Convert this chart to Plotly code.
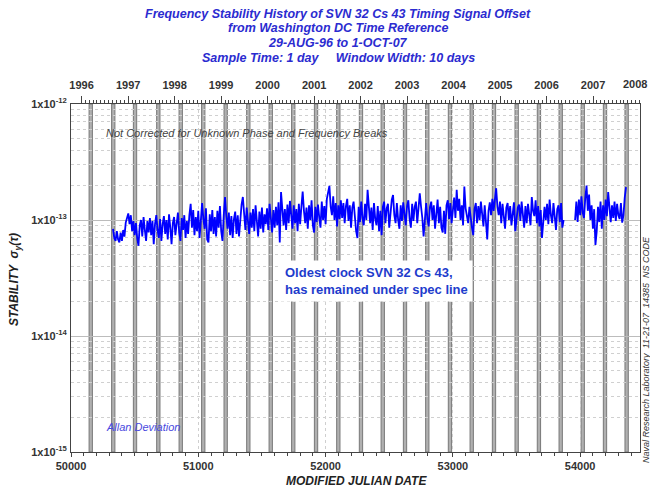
import math
import pandas as pd
import plotly.graph_objects as go

# ---------------- data ----------------
mjd_start = 50330          # first plotted sample (MJD)
sample_step_days = 10      # spacing of the listed samples
# Allan deviation, in units of 1e-13 (None = no data)
sigma_e13 = [
    0.84, 0.70, 0.66, 0.80, 0.68, 0.64, 0.78, 0.66, 0.82, 0.72,
    0.95, 1.08, 1.14, 0.92, 1.10, 0.80, 0.98, 0.74, 0.94, 0.70,
    0.60, 0.90, 1.00, 0.72, 1.06, 0.82, 0.66, 0.98, 0.78, 1.04,
    0.74, 0.98, 0.62, 0.92, 1.10, 0.82, 0.70, 1.02, 0.66, 0.92,
    1.08, 0.76, 1.00, 0.68, 1.12, 0.86, 0.62, 0.94, 1.06, 0.74,
    1.00, 1.16, 0.78, 0.66, 1.04, 0.82, 1.10, 0.70, 0.98, 0.76,
    1.10, 1.38, 0.86, 1.22, 0.74, 1.06, 0.80, 1.20, 0.70, 1.00,
    1.40, 1.02, 0.84, 1.26, 0.68, 0.64, 1.12, 0.80, 1.22, 0.76,
    1.06, 0.72, 1.20, 0.86, 1.32, 0.80, 0.66, 1.10, 1.58, 1.08,
    0.84, 1.16, 0.74, 1.08, 0.70, 1.02, 1.18, 0.76, 1.10, 0.72,
    1.12, 1.36, 1.58, 1.02, 0.82, 1.28, 0.92, 0.76, 1.16, 0.86,
    1.24, 0.80, 1.34, 0.90, 0.72, 1.18, 0.84, 1.28, 0.78, 1.12,
    0.92, 1.26, 0.82, 1.38, 0.96, 0.78, 1.22, 0.86, 1.30, 0.90,
    1.42, 0.64, 1.74, 1.10, 0.90, 1.24, 0.82, 1.36, 0.94, 1.46,
    1.00, 0.84, 1.34, 0.94, 1.24, 0.80, 1.38, 0.92, 1.30, 1.76,
    1.20, 0.94, 1.28, 0.84, 1.34, 1.00, 1.48, 0.90, 0.78, 1.30,
    0.96, 1.36, 1.06, 0.86, 1.44, 1.00, 1.32, 0.92, 1.52, 1.72,
    1.97, 1.30, 1.10, 1.60, 1.00, 1.40, 0.88, 1.34, 1.02, 1.48,
    1.04, 1.40, 0.94, 1.32, 1.52, 0.98, 1.34, 0.86, 1.28, 1.44,
    1.00, 0.80, 0.70, 1.30, 0.96, 1.44, 1.04, 0.90, 1.38, 1.00,
    1.82, 1.16, 0.94, 1.28, 0.82, 1.40, 1.02, 0.90, 1.32, 0.80,
    1.20, 0.74, 1.30, 1.44, 0.94, 1.26, 1.38, 0.86, 1.22, 1.50,
    1.64, 1.10, 0.94, 1.40, 1.00, 0.84, 1.34, 0.98, 1.42, 1.04,
    0.90, 1.32, 1.48, 1.02, 0.86, 1.38, 0.98, 1.30, 1.44, 0.94,
    1.34, 1.70, 1.30, 1.04, 0.72, 0.96, 1.40, 1.02, 0.88, 1.30,
    1.44, 1.00, 1.34, 0.84, 1.24, 1.50, 0.94, 1.30, 0.86, 0.78,
    1.20, 0.76, 1.34, 1.48, 1.02, 1.40, 0.94, 1.32, 1.56, 1.04,
    1.82, 1.20, 1.52, 1.00, 1.34, 0.90, 1.94, 1.26, 1.04, 0.94,
    1.30, 0.98, 0.86, 0.74, 1.24, 1.40, 0.94, 1.32, 1.00, 1.44,
    1.04, 0.88, 1.34, 0.94, 0.68, 1.20, 1.42, 1.10, 1.52, 1.20,
    1.60, 1.88, 1.30, 1.10, 1.44, 0.94, 1.38, 1.02, 0.84, 1.28,
    1.40, 1.00, 1.32, 0.90, 1.24, 1.42, 0.80, 0.96, 1.28, 1.36,
    0.98, 1.44, 1.04, 0.86, 1.32, 0.94, 1.38, 1.02, 0.90, 1.58,
    1.20, 1.08, 1.48, 0.94, 1.32, 0.88, 1.22, 0.70, 0.96, 1.30,
    1.00, 1.38, 0.92, 1.50, 1.10, 0.94, 1.40, 1.02, 0.82, 1.24,
    1.34, 0.96, 1.40, 0.86, 1.00, None, None, None, None, None,
    None, None, None, 1.00, 1.44, 0.96, 1.50, 1.10, 1.60, 1.16,
    1.04, 1.54, 1.98, 1.20, 1.66, 1.00, 1.34, 0.84, 1.24, 0.61,
    0.80, 1.30, 0.96, 1.44, 0.84, 1.34, 1.00, 1.50, 1.08, 1.74,
    1.20, 0.96, 1.34, 1.04, 1.44, 0.98, 1.38, 1.10, 1.02, 1.40,
    0.95, 1.10, 1.55, 1.92,
]
spec_limit = 2e-13
# centres (MJD) of the grey eclipse-season bands
eclipse_mjd = [50155, 50332, 50503, 50686, 50862, 51039, 51215, 51393, 51569,
               51746, 51925, 52100, 52278, 52449, 52624, 52799, 52977, 53148,
               53323, 53501, 53676, 53847, 54020, 54195, 54365]
mjd_ticks = [50000, 51000, 52000, 53000, 54000]
mjd_tick_text = ["50000", "51000", "52000", "53000", "54000"]
year_labels = [str(y) for y in range(1996, 2009)]
decade_vals = [1e-15, 1e-14, 1e-13, 1e-12]
decade_text = ["1x10<sup>-15</sup>", "1x10<sup>-14</sup>", "1x10<sup>-13</sup>", "1x10<sup>-12</sup>"]
x_range = [50000, 54470]
title_lines = ["Frequency Stability History of SVN 32 Cs 43 Timing Signal Offset",
               "from Washington DC Time Reference",
               "29-AUG-96 to 1-OCT-07",
               "Sample Time: 1 day     Window Width: 10 days"]

# ---------------- derived ----------------
mjd = [mjd_start + i * sample_step_days for i in range(len(sigma_e13))]
sigma = [v * 1e-13 if v is not None else None for v in sigma_e13]

MJD_EPOCH = pd.Timestamp("1858-11-17")
def to_mjd(ts):
    return (ts - MJD_EPOCH).days

year_mjd = [to_mjd(pd.Timestamp(f"{y}-01-01")) for y in year_labels]
month_mjd = [to_mjd(t) for t in pd.date_range("1996-01-01", "2008-01-01", freq="MS")]
# last year label is drawn as an annotation so it stays inside the page
year_ticktext = year_labels[:-1] + [""]

FONT = "Liberation Sans, Arial, sans-serif"
BLUE = "#2b2bd0"
AXFONT = dict(family=FONT, size=11, color="#333", weight="bold")

fig = go.Figure()
fig.add_trace(go.Scatter(x=mjd, y=sigma, mode="lines", connectgaps=False,
                         line=dict(color="#0000ff", width=1.8), xaxis="x", yaxis="y",
                         showlegend=False, hoverinfo="skip"))
# dummy trace to activate the top axis
fig.add_trace(go.Scatter(x=x_range, y=[None, None], xaxis="x2", yaxis="y",
                         mode="lines", showlegend=False, hoverinfo="skip"))

shapes = []
for c in eclipse_mjd:
    shapes.append(dict(type="rect", xref="x", yref="y domain", x0=c - 13, x1=c + 13,
                       y0=0, y1=1, fillcolor="#b0b0b0",
                       line=dict(color="#787878", width=1), layer="below"))
shapes.append(dict(type="line", xref="x domain", yref="y", x0=0, x1=1,
                   y0=math.log10(spec_limit), y1=math.log10(spec_limit),
                   line=dict(color="#f04848", width=1.6), layer="above"))
fig.update_layout(shapes=shapes)

fig.update_layout(
    width=650, height=493,
    margin=dict(l=71, r=10, t=104, b=41, autoexpand=False),
    paper_bgcolor="white", plot_bgcolor="white",
    xaxis=dict(range=x_range, tickmode="array", tickvals=mjd_ticks, ticktext=mjd_tick_text,
               automargin=False,
               ticks="outside", ticklen=4, tickcolor="#444", tickfont=AXFONT,
               showline=True, linecolor="#444", linewidth=1, mirror=False,
               showgrid=True, gridcolor="#cfcfcf", griddash="dot", gridwidth=1,
               minor=dict(dtick=100, tick0=50000, ticks="outside", ticklen=3,
                          tickcolor="#444", showgrid=False),
               zeroline=False),
    xaxis2=dict(range=x_range, overlaying="x", side="top", tickmode="array",
                tickvals=year_mjd, ticktext=year_ticktext,
                automargin=False, ticklabelstandoff=3,
                ticks="outside", ticklen=7, tickcolor="#444", tickfont=AXFONT,
                showline=True, linecolor="#444", linewidth=1,
                showgrid=False, zeroline=False,
                minor=dict(tickmode="array", tickvals=month_mjd, ticks="outside",
                           ticklen=3, tickcolor="#444", showgrid=False)),
    yaxis=dict(type="log", range=[-15, -12], tickmode="array", tickvals=decade_vals,
               ticktext=decade_text, ticks="", ticklabelstandoff=1, automargin=False,
               tickfont=AXFONT,
               showline=True, linecolor="#444", linewidth=1, mirror=True,
               showgrid=True, gridcolor="#bcbcbc", gridwidth=1,
               minor=dict(dtick="D1", showgrid=True, gridcolor="#d0d0d0",
                          griddash="dot", ticks=""),
               zeroline=False),
)

def px_x(p):
    return (p - 71) / 569.0

def px_y(p):
    return (452 - p) / 348.0

ann = []
for line, yc in zip(title_lines, [14, 28.5, 43, 57.5]):
    ann.append(dict(text=line, x=px_x(338), y=px_y(yc), xanchor="center", yanchor="middle",
                    font=dict(family=FONT, size=12.5, color=BLUE, weight="bold", style="italic")))
ann += [
    dict(text=year_labels[-1], x=px_x(649), y=px_y(84), xanchor="right", yanchor="middle",
         font=AXFONT),
    dict(text="Not Corrected for Unknown Phase and Frequency Breaks",
         x=px_x(104), y=px_y(133), xanchor="left", yanchor="middle",
         font=dict(family=FONT, size=11, color="#444", style="italic")),
    dict(text="Allan Deviation",
         x=px_x(104), y=px_y(427), xanchor="left", yanchor="middle",
         font=dict(family=FONT, size=11, color="#4a4ae0", style="italic")),
    dict(text="Oldest clock SVN 32 Cs 43,<br>has remained under spec line",
         x=px_x(280), y=px_y(281), xanchor="left", yanchor="middle", align="left",
         bgcolor="white", borderpad=4,
         font=dict(family=FONT, size=13, color="#1e3ccc", weight="bold")),
    dict(text="STABILITY  σ<sub>y</sub>(τ)",
         x=px_x(15), y=px_y(280), xanchor="center", yanchor="middle", textangle=-90,
         font=dict(family=FONT, size=12, color="#222", weight="bold", style="italic")),
    dict(text="MODIFIED JULIAN DATE",
         x=px_x(356), y=px_y(481), xanchor="center", yanchor="middle",
         font=dict(family=FONT, size=12, color="#222", weight="bold", style="italic")),
    dict(text="Naval Research Laboratory  11-21-07  14385  NS CODE",
         x=px_x(646), y=px_y(350), xanchor="center", yanchor="middle", textangle=-90,
         font=dict(family=FONT, size=9, color="#333", style="italic")),
]
for a in ann:
    a.update(xref="paper", yref="paper", showarrow=False)
fig.update_layout(annotations=ann)

fig.write_html("out.html")
